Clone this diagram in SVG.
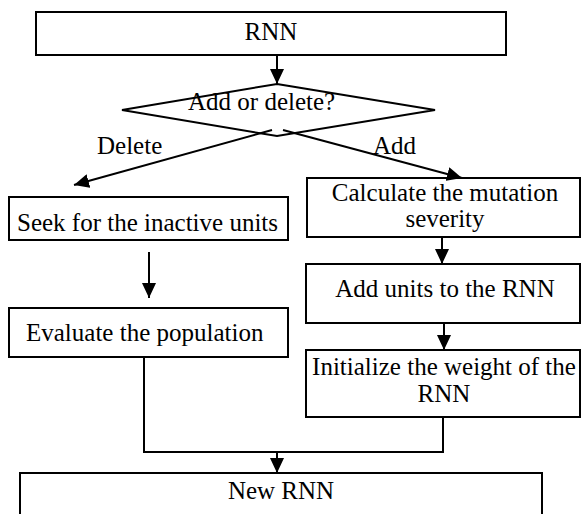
<svg xmlns="http://www.w3.org/2000/svg" width="581" height="514" viewBox="0 0 581 514">
<style>
.box{fill:#fff;stroke:#000;stroke-width:2}
.ln{fill:none;stroke:#000;stroke-width:2}
.ar{fill:none;stroke:#000;stroke-width:2;marker-end:url(#ah)}
text{font-family:"Liberation Serif","Times New Roman",serif;font-size:25px;fill:#000}
.c{text-anchor:middle}
</style>
<defs>
<marker id="ah" markerUnits="userSpaceOnUse" markerWidth="16" markerHeight="14" refX="15" refY="7" orient="auto">
<path d="M0,0 L15,7 L0,14 z" fill="#000"/>
</marker>
</defs>
<rect width="581" height="514" fill="#fff"/>
<g id="n-rnn"><rect class="box" x="36" y="12" width="470" height="43"/><text class="c" x="271" y="40">RNN</text></g>
<g id="n-decision"><polygon class="box" points="277,84 435,110 277,136 122,110"/><text x="188" y="110">Add or delete?</text></g>
<g id="n-seek"><rect class="box" x="9" y="197" width="279" height="43"/><text x="17" y="231">Seek for the inactive units</text></g>
<g id="n-eval"><rect class="box" x="9" y="308" width="279" height="49"/><text x="26" y="341">Evaluate the population</text></g>
<g id="n-calc"><rect class="box" x="307" y="178" width="273" height="59"/><text class="c" x="445" y="201">Calculate the mutation</text><text class="c" x="445" y="227">severity</text></g>
<g id="n-addunits"><rect class="box" x="306" y="264" width="274" height="59"/><text class="c" x="445" y="297">Add units to the RNN</text></g>
<g id="n-init"><rect class="box" x="306" y="350" width="274" height="67"/><text class="c" x="444" y="375">Initialize the weight of the</text><text class="c" x="444" y="402">RNN</text></g>
<g id="n-new"><rect class="box" x="20" y="473" width="522" height="50"/><text class="c" x="281" y="499">New RNN</text></g>
<g id="connectors">
<line class="ar" x1="277" y1="55" x2="277" y2="84"/>
<line class="ar" x1="272" y1="130" x2="74" y2="185"/>
<line class="ar" x1="283" y1="130" x2="462" y2="178"/>
<line class="ar" x1="442" y1="237" x2="442" y2="264"/>
<line class="ar" x1="149" y1="252" x2="149" y2="298"/>
<line class="ar" x1="444" y1="323" x2="444" y2="350"/>
<polyline class="ln" points="144,357 144,452 443,452 443,417"/>
<line class="ar" x1="277" y1="452" x2="277" y2="473"/>
<text x="97" y="154">Delete</text>
<text x="373" y="154">Add</text>
</g>
</svg>
